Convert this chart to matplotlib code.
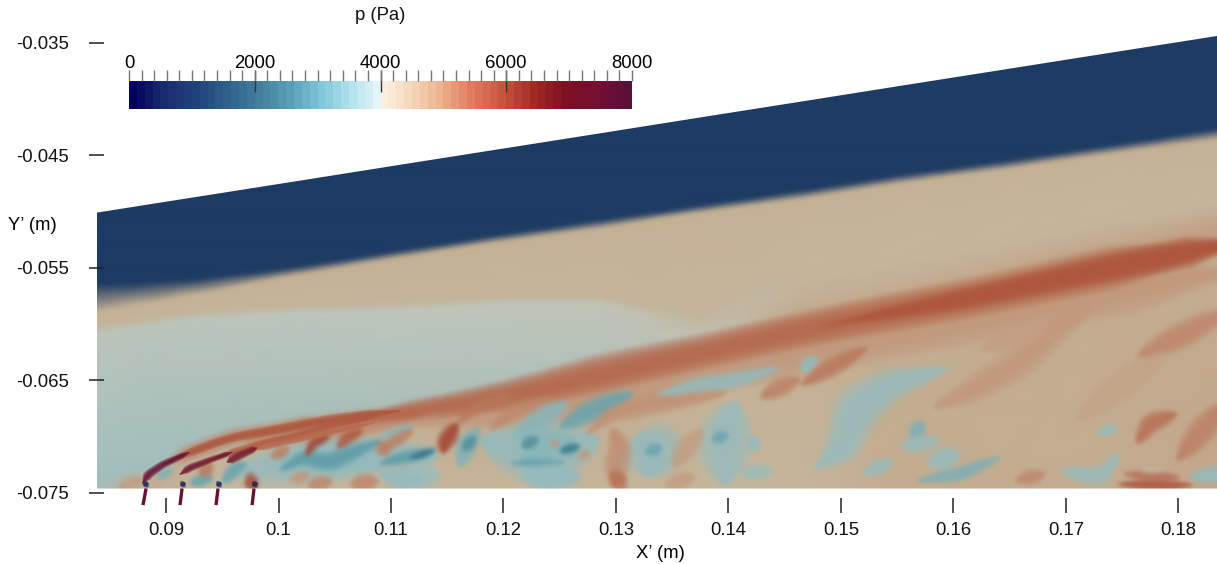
import numpy as np
import matplotlib
matplotlib.use('Agg')
import matplotlib.pyplot as plt
from matplotlib.cm import ScalarMappable
from matplotlib.colors import LinearSegmentedColormap, Normalize
from matplotlib.patches import Polygon, Rectangle

plt.rcParams['font.family'] = ['Liberation Sans', 'DejaVu Sans']
plt.rcParams['font.size'] = 13.3

P_MAX = 8000
WALL_Y = -0.07463
X_RANGE = (0.08386, 0.18344)
Y_TOP = -0.0312

# colour bar colours, and the dimmer (lit) ones seen on the field
legend_stops = [(0, (2, 0, 90)), (500, (25, 45, 110)), (1000, (30, 65, 120)), (1500, (45, 95, 140)),
                (2000, (65, 125, 155)), (2500, (85, 155, 180)), (3000, (125, 195, 215)),
                (3500, (175, 225, 235)), (3950, (228, 246, 249)), (4050, (253, 240, 225)),
                (4500, (245, 215, 185)), (5000, (238, 175, 140)), (5500, (225, 120, 90)),
                (6000, (195, 85, 60)), (6500, (160, 40, 35)), (7000, (125, 15, 35)),
                (7500, (115, 15, 50)), (8000, (90, 15, 55))]
field_stops = [(0, (5, 0, 70)), (900, (30, 60, 100)), (1500, (40, 85, 115)), (2400, (60, 125, 145)),
               (3000, (105, 165, 175)), (3400, (150, 190, 192)), (3700, (172, 192, 186)),
               (4000, (192, 198, 188)), (4450, (197, 178, 150)), (5000, (192, 140, 112)),
               (5500, (180, 97, 70)), (6000, (165, 70, 52)), (6500, (135, 40, 40)),
               (7000, (110, 20, 45)), (8000, (85, 15, 55))]

x_ticks = [0.09, 0.10, 0.11, 0.12, 0.13, 0.14, 0.15, 0.16, 0.17, 0.18]
x_tick_labels = ['0.09', '0.1', '0.11', '0.12', '0.13', '0.14', '0.15', '0.16', '0.17', '0.18']
y_ticks = [-0.035, -0.045, -0.055, -0.065, -0.075]
y_tick_labels = ['-0.035', '-0.045', '-0.055', '-0.065', '-0.075']
cbar_ticks = [0, 2000, 4000, 6000, 8000]

# background mesh, mm, one row per flow interface from the upper edge to the wall
mesh_x = [83.86, 88.6, 93.0, 101.9, 110.8, 119.7, 128.6, 137.5, 146.4, 155.3, 164.2, 173.0, 183.44]
mesh_y = [
    [-50.1, -49.35, -48.66, -47.26, -45.85, -44.45, -43.05, -41.64, -40.24, -38.83, -37.43, -36.04, -34.4],
    [-56.5, -56.3, -56.0, -54.9, -53.5, -52.1, -50.8, -49.5, -48.2, -46.8, -45.6, -44.3, -42.7],
    [-58.9, -58.1, -57.3, -55.6, -54.1, -52.7, -51.5, -50.1, -48.9, -47.5, -46.3, -45.0, -43.6],
    [-60.2, -59.5, -58.9, -58.4, -58.2, -57.6, -57.6, -59.3, -53.9, -52.1, -50.3, -48.5, -46.8],
    [-60.8, -60.1, -59.5, -59.0, -58.8, -58.3, -58.2, -60.0, -56.1, -54.5, -53.0, -51.2, -49.4],
    [-73.4, -72.8, -70.8, -68.7, -67.0, -65.3, -62.9, -61.2, -59.3, -57.5, -55.7, -53.8, -51.6],
    [-74.05, -73.9, -71.9, -70.1, -68.9, -68.0, -65.7, -63.9, -62.0, -60.2, -58.4, -56.6, -54.7],
    [-74.63, -74.63, -74.63, -74.63, -74.63, -74.63, -74.63, -74.63, -74.63, -74.63, -74.63, -74.63, -74.63],
]
mesh_p = [
    [900] * 13,
    [900] * 13,
    [4450] * 13,
    [4400] * 13,
    [3950, 3930, 3950, 3950, 3970, 4000, 4050, 4250, 4400, 4400, 4400, 4400, 4400],
    [3550, 3550, 3600, 3650, 3700, 3780, 3850, 4050, 4550, 4550, 4600, 4650, 4700],
    [3550, 4500, 4450, 4400, 4450, 4500, 4500, 4450, 4450, 4500, 4500, 4500, 4500],
    [3550, 4500, 4300, 4400, 4400, 4400, 4400, 4400, 4400, 4500, 4500, 4500, 4600],
]

# injector tubes below the wall, mm
jet_x = [[87.95, 88.22], [91.24, 91.42], [94.44, 94.62], [97.65, 97.82]]
jet_y = [-76.1, -74.63]
jet_p = 7300

# flow structures: pressure, x mm, y mm, width mm (one number = tapered at both ends)
broad_patches = [
    (4800, [110.8, 119.7, 128.6, 137.5, 146.4, 155.3, 164.2, 173.0, 186.0],
     [-69.0, -68.1, -66.3, -64.5, -62.8, -61.0, -59.2, -57.4, -55.0],
     [2.0, 2.5, 3.0, 3.0, 3.0, 3.0, 3.5, 3.5, 4.0]),
    (5000, [97.0, 102.0, 107.0, 113.0], [-70.4, -69.6, -68.9, -67.9], 2.2),
    (3450, [95.7, 101.9, 109.0], [-73.2, -72.3, -72.3], 3.2),
    (3400, [99.2, 104.6, 110.8, 114.4], [-72.5, -71.7, -71.7, -71.7], 3.0),
    (3500, [110.8, 114.4], [-73.4, -73.4], 2.2),
    (3400, [117.9, 121.5, 125.0, 128.6], [-70.3, -71.2, -71.2, -70.3], 4.5),
    (3500, [121.5, 126.0], [-73.0, -73.0], 3.2),
    (5450, [100.0, 104.6, 110.8, 119.7, 128.6, 137.5, 146.4, 155.3, 164.2, 173.0, 186.0],
     [-69.6, -68.9, -67.8, -66.6, -64.3, -62.5, -60.5, -58.8, -57.2, -55.2, -52.6],
     [0.6, 0.9, 1.4, 2.1, 2.7, 2.5, 2.5, 2.7, 2.8, 3.0, 3.2]),
    (5700, [148.1, 159.7, 173.0, 186.0], [-60.2, -58.0, -55.2, -52.6], [0.3, 1.5, 2.0, 2.4]),
    (5000, [89.7, 92.1, 95.7, 99.9, 104.6], [-72.5, -71.4, -70.1, -69.4, -68.5], [0.9, 1.2, 1.3, 1.3, 1.3]),
]
sharp_shocks = [
    (5700, [89.7, 92.1, 95.7, 99.9, 104.6, 110.8], [-72.5, -71.4, -70.1, -69.4, -68.5, -67.7],
     [0.6, 0.7, 0.7, 0.8, 0.8, 0.7]),
    (7400, [87.9, 88.4, 89.7, 92.1], [-74.2, -73.4, -72.5, -71.4], [0.6, 0.7, 0.6, 0.4]),
    (5600, [93.9, 95.9, 98.6, 101.6, 105.5, 109.0], [-72.1, -71.4, -70.6, -69.9, -68.8, -68.2],
     [0.5, 0.6, 0.6, 0.6, 0.6, 0.5]),
    (7000, [91.2, 92.1, 93.9, 95.9], [-73.4, -72.8, -72.1, -71.4], [0.5, 0.6, 0.5, 0.4]),
    (5400, [97.5, 99.9, 102.2, 105.9, 108.5], [-71.3, -70.6, -70.1, -69.3, -68.8], [0.5, 0.6, 0.6, 0.5, 0.4]),
    (6900, [95.4, 96.3, 98.1], [-72.3, -71.8, -71.0], [0.6, 0.7, 0.5]),
    (500, [88.0, 88.4], [-74.4, -74.1], 0.6),
    (500, [91.3, 91.7], [-74.4, -74.1], 0.6),
    (500, [94.5, 94.9], [-74.4, -74.1], 0.6),
    (500, [97.7, 98.1], [-74.4, -74.1], 0.6),
]
near_wall_left = [
    (4700, [85.7, 88.1], [-74.5, -73.7], 1.0),
    (3200, [89.2, 90.6], [-73.7, -72.8], 0.8),
    (3000, [92.1, 94.2], [-74.1, -73.6], 1.0),
    (5200, [93.0, 94.1], [-73.4, -72.4], 1.2),
    (3000, [95.0, 96.3, 97.2], [-74.1, -72.7, -72.4], 1.1),
    (2900, [100.1, 102.2, 104.6, 107.0, 109.3], [-73.0, -71.8, -72.3, -71.2, -70.3], 1.4),
    (5800, [97.0, 98.2], [-74.2, -73.9], 1.6),
    (5100, [99.3, 101.0], [-71.8, -71.0], 1.0),
    (6000, [102.4, 103.1, 104.6], [-71.7, -70.6, -69.9], 0.8),
    (5600, [105.2, 106.1, 107.5], [-71.0, -70.1, -69.4], 1.0),
    (5100, [108.8, 109.9], [-71.5, -70.6], 1.3),
    (4800, [101.0, 102.8], [-73.9, -73.3], 1.0),
    (5000, [106.4, 108.9], [-74.2, -73.9], 1.4),
    (5000, [102.6, 104.8], [-74.3, -73.9], 1.2),
]
near_wall_middle = [
    (3300, [109.0, 110.5, 112.0], [-70.1, -69.6, -69.0], 0.8),
    (5100, [109.0, 110.2, 112.0], [-71.2, -70.5, -69.4], 1.0),
    (2900, [109.0, 110.8, 112.9, 114.1], [-72.4, -71.9, -71.5, -71.0], 1.0),
    (2300, [111.7, 113.9], [-71.9, -71.2], 0.6),
    (3400, [109.0, 110.8, 112.9], [-73.3, -73.9, -73.9], 1.6),
    (5200, [115.9, 117.6, 120.9], [-68.8, -67.4, -66.3], 1.0),
    (6000, [114.6, 114.8, 115.9], [-71.5, -70.5, -68.8], 1.4),
    (3200, [116.1, 116.8, 117.9], [-72.7, -70.6, -69.2], 1.6),
    (2700, [116.4, 117.5], [-71.2, -70.0], 1.0),
    (5000, [118.8, 120.9, 124.4], [-69.4, -67.7, -66.6], 1.2),
    (3300, [120.9, 123.3, 125.7], [-70.1, -68.5, -66.9], 1.8),
    (3000, [125.0, 127.4, 129.7, 131.5], [-69.2, -67.9, -66.9, -66.1], 1.8),
    (3300, [121.7, 123.9, 126.8], [-72.4, -70.6, -70.9], 2.5),
    (2700, [121.6, 123.1], [-70.9, -70.1], 1.0),
    (2400, [125.0, 126.8], [-71.3, -70.8], 0.8),
    (3000, [120.6, 125.5], [-72.3, -72.3], 0.7),
    (3400, [121.5, 127.0], [-73.6, -73.6], 2.0),
    (4800, [124.1, 125.0], [-70.6, -70.6], 0.7),
    (4800, [126.6, 127.7], [-71.8, -71.4], 0.7),
    (4950, [129.7, 130.4, 129.7], [-69.2, -71.2, -74.5], 2.0),
    (5300, [129.6, 130.8], [-74.3, -73.4], 1.8),
    (4900, [127.4, 129.7, 134.2, 139.9], [-69.7, -67.9, -66.9, -66.1], 1.6),
    (3400, [131.5, 133.3, 132.8], [-70.1, -71.2, -73.6], 4.5),
    (3000, [132.6, 134.1], [-71.4, -70.9], 1.0),
    (3400, [133.7, 137.2, 140.4, 144.6], [-66.3, -65.4, -65.0, -63.9], 1.3),
    (3450, [140.6, 139.7, 139.7], [-66.8, -70.3, -74.3], 4.0),
    (3050, [138.5, 140.0], [-70.3, -69.8], 1.0),
    (3400, [141.8, 142.8], [-70.9, -70.3], 1.4),
    (3500, [141.0, 144.0], [-73.3, -73.0], 1.2),
    (4700, [135.1, 136.6, 137.7], [-72.7, -70.6, -69.4], 1.6),
    (4700, [134.4, 137.0], [-74.3, -73.5], 1.4),
    (5100, [142.8, 146.4], [-66.5, -64.8], 1.4),
]
near_wall_right = [
    (3400, [146.4, 147.9], [-64.1, -63.0], 1.2),
    (5200, [146.4, 149.3, 152.3], [-65.4, -63.8, -62.1], 1.4),
    (3450, [147.5, 150.2, 151.4, 154.6, 160.0], [-73.0, -70.9, -67.4, -65.3, -63.8], [1.0, 2.6, 3.6, 2.4, 0.6]),
    (3450, [152.0, 154.6], [-73.3, -72.1], 1.2),
    (3200, [156.2, 157.4], [-70.1, -68.7], 1.4),
    (3450, [155.3, 158.8], [-70.9, -70.3], 1.3),
    (3450, [157.7, 160.6], [-72.4, -71.5], 1.8),
    (3200, [156.8, 160.6, 164.2], [-73.9, -73.3, -71.8], 1.1),
    (3450, [169.5, 173.0, 174.8], [-73.0, -73.6, -71.5], 1.4),
    (3450, [172.8, 174.6], [-69.7, -69.2], 0.9),
    (4800, [158.2, 161.2, 165.7, 168.9, 172.4], [-67.4, -66.1, -63.5, -60.8, -58.5], 2.4),
    (4700, [162.4, 167.1, 168.9], [-62.3, -60.5, -59.0], 1.8),
    (5050, [176.3, 179.9, 184.5], [-62.9, -61.2, -58.8], 2.0),
    (4650, [171.0, 174.6, 179.0], [-68.5, -65.6, -62.6], 2.2),
    (5000, [165.5, 168.2], [-73.9, -73.3], 1.2),
    (5300, [176.3, 177.5, 179.9], [-70.6, -68.8, -67.9], 1.5),
    (5100, [179.9, 181.9, 184.5], [-72.1, -69.7, -66.8], 2.0),
    (5700, [174.6, 181.3], [-74.2, -74.3], 0.8),
    (5300, [175.1, 180.2], [-73.3, -73.6], 0.8),
    (4300, [176.6, 178.8], [-73.0, -73.0], 0.5),
    (3400, [181.0, 184.5], [-73.6, -73.2], 1.3),
]


def make_cmap(name, stops, n):
    nodes = [(p / P_MAX, tuple(c / 255 for c in rgb)) for p, rgb in stops]
    return LinearSegmentedColormap.from_list(name, nodes, N=n)


def add_streak(ax, clip, cmap, norm, p, xs, ys, width, fracs):
    xs = np.array(xs) / 1000
    ys = np.array(ys) / 1000
    seg = np.hypot(np.diff(xs), np.diff(ys))
    s = np.concatenate([[0], np.cumsum(seg)]) / seg.sum()
    t = np.linspace(0, 1, 80)
    px = np.interp(t, s, xs)
    py = np.interp(t, s, ys)
    kernel = np.ones(11) / 11
    px[5:-5] = np.convolve(px, kernel, mode='valid')
    py[5:-5] = np.convolve(py, kernel, mode='valid')
    if np.isscalar(width):
        w = width / 1000 * np.sin(np.pi * t) ** 0.6
    else:
        w = np.interp(t, s, np.array(width) / 1000) * np.minimum(1, np.minimum(t, 1 - t) / 0.15 + 0.1)
    dx = np.gradient(px)
    dy = np.gradient(py)
    n = np.hypot(dx, dy)
    for frac in fracs:
        off = w * frac / 2
        xp = np.concatenate([px - dy / n * off, (px + dy / n * off)[::-1]])
        yp = np.concatenate([py + dx / n * off, (py - dx / n * off)[::-1]])
        for poly in ax.fill(xp, yp, color=cmap(norm(p)), alpha=1 / (1 + len(fracs) / 2.5), lw=0):
            if clip is not None:
                poly.set_clip_path(clip)


def blur(img, sigma):
    r = int(3 * sigma)
    k = np.exp(-0.5 * (np.arange(-r, r + 1) / sigma) ** 2)
    k /= k.sum()
    out = img.astype(float)
    for axis in [0, 1]:
        pad = [(0, 0), (0, 0), (0, 0)]
        pad[axis] = (r, r)
        padded = np.pad(out, pad, mode='edge')
        out = np.apply_along_axis(lambda v: np.convolve(v, k, mode='valid'), axis, padded)
    return out / 255


def render_field(cmap, norm):
    # the smooth part of the field, painted at screen size and softened like the solver output
    off = plt.figure(figsize=(11.2, 4.885), dpi=100, facecolor=cmap(norm(900)))
    fa = off.add_axes([0, 0, 1, 1])
    X = np.tile(np.array(mesh_x) / 1000, (len(mesh_y), 1))
    Y = np.array(mesh_y) / 1000
    fa.pcolormesh(X, Y, np.array(mesh_p), cmap=cmap, norm=norm, shading='gouraud')
    for group in [broad_patches, near_wall_left, near_wall_middle, near_wall_right]:
        for p, xs, ys, w in group:
            add_streak(fa, None, cmap, norm, p, xs, ys, w, np.linspace(1.3, 0.3, 8))
    fa.set_xlim(*X_RANGE)
    fa.set_ylim(WALL_Y, Y_TOP)
    fa.axis('off')
    off.canvas.draw()
    img = np.asarray(off.canvas.buffer_rgba())[:, :, :3]
    plt.close(off)
    return blur(img, 2.0)


fig = plt.figure(figsize=(12.17, 5.64), dpi=100)
W, H = 1217, 564

legend_cmap = make_cmap('legend', legend_stops, 64)
field_cmap = make_cmap('field', field_stops, 256)
norm = Normalize(0, P_MAX)

# axes reach down to the -0.075 tick, the field stops at the wall just above it
ax = fig.add_axes([97 / W, (H - 492.8) / H, 1120 / W, 492.8 / H])

field = ax.imshow(render_field(field_cmap, norm), extent=(X_RANGE[0], X_RANGE[1], WALL_Y, Y_TOP),
                  aspect='auto', interpolation='bilinear', zorder=0)
outline = list(zip(np.array(mesh_x) / 1000, np.array(mesh_y[0]) / 1000))
outline += [(X_RANGE[1], WALL_Y), (X_RANGE[0], WALL_Y)]
field.set_clip_path(Polygon(outline, transform=ax.transData))

clip = Rectangle((X_RANGE[0], WALL_Y), X_RANGE[1] - X_RANGE[0], Y_TOP - WALL_Y, transform=ax.transData)
for p, xs, ys, w in sharp_shocks:
    add_streak(ax, clip, field_cmap, norm, p, xs, ys, w, np.linspace(1.2, 0.3, 6))

for xs in jet_x:
    ax.plot(np.array(xs) / 1000, np.array(jet_y) / 1000, color=field_cmap(norm(jet_p)),
            lw=2.4, solid_capstyle='butt', clip_on=False)

ax.set_xticks(x_ticks, x_tick_labels)
ax.set_yticks(y_ticks, y_tick_labels)
ax.set_xlim(*X_RANGE)
ax.set_ylim(-0.07501, Y_TOP)

# axes are drawn offset from the field
for name in ['top', 'right', 'left', 'bottom']:
    ax.spines[name].set_visible(False)
ax.spines['bottom'].set_position(('outward', 5.2 * 0.72))
ax.spines['left'].set_position(('outward', -7 * 0.72))
ax.tick_params(axis='x', length=10.8, width=1.1, color='#222222', pad=6.5, labelcolor='#111111')
ax.tick_params(axis='y', length=10.8, width=1.1, color='#222222', pad=14.4, labelcolor='#111111')
ax.set_xlabel('X\u2019 (m)', va='center')
ax.xaxis.set_label_coords(660 / W, 1 - 554 / H, transform=fig.transFigure)
ax.set_ylabel('Y\u2019 (m)', rotation=0, ha='center', va='center')
ax.yaxis.set_label_coords(32 / W, 1 - 225 / H, transform=fig.transFigure)

cax = fig.add_axes([129 / W, (H - 109) / H, 503 / W, 28 / H])
cb = fig.colorbar(ScalarMappable(norm=norm, cmap=legend_cmap), cax=cax, orientation='horizontal')
cb.outline.set_visible(False)
cax.xaxis.set_ticks_position('top')
cax.set_xticks(cbar_ticks)
cax.set_xticks(np.arange(0, P_MAX + 1, 200), minor=True)
cax.xaxis.remove_overlapping_locs = False
cax.tick_params(axis='x', which='major', direction='inout', length=16.5, width=1.0, color='#333333', pad=-1.7)
cax.tick_params(axis='x', which='minor', direction='out', length=8, width=1.0, color='#777777')
for i in [0, -1]:
    cax.xaxis.get_major_ticks()[i].tick2line.set_visible(False)
fig.text(380 / W, 1 - 15 / H, 'p (Pa)', ha='center', va='center', color='#111111')

fig.savefig('out.png', dpi=100)
